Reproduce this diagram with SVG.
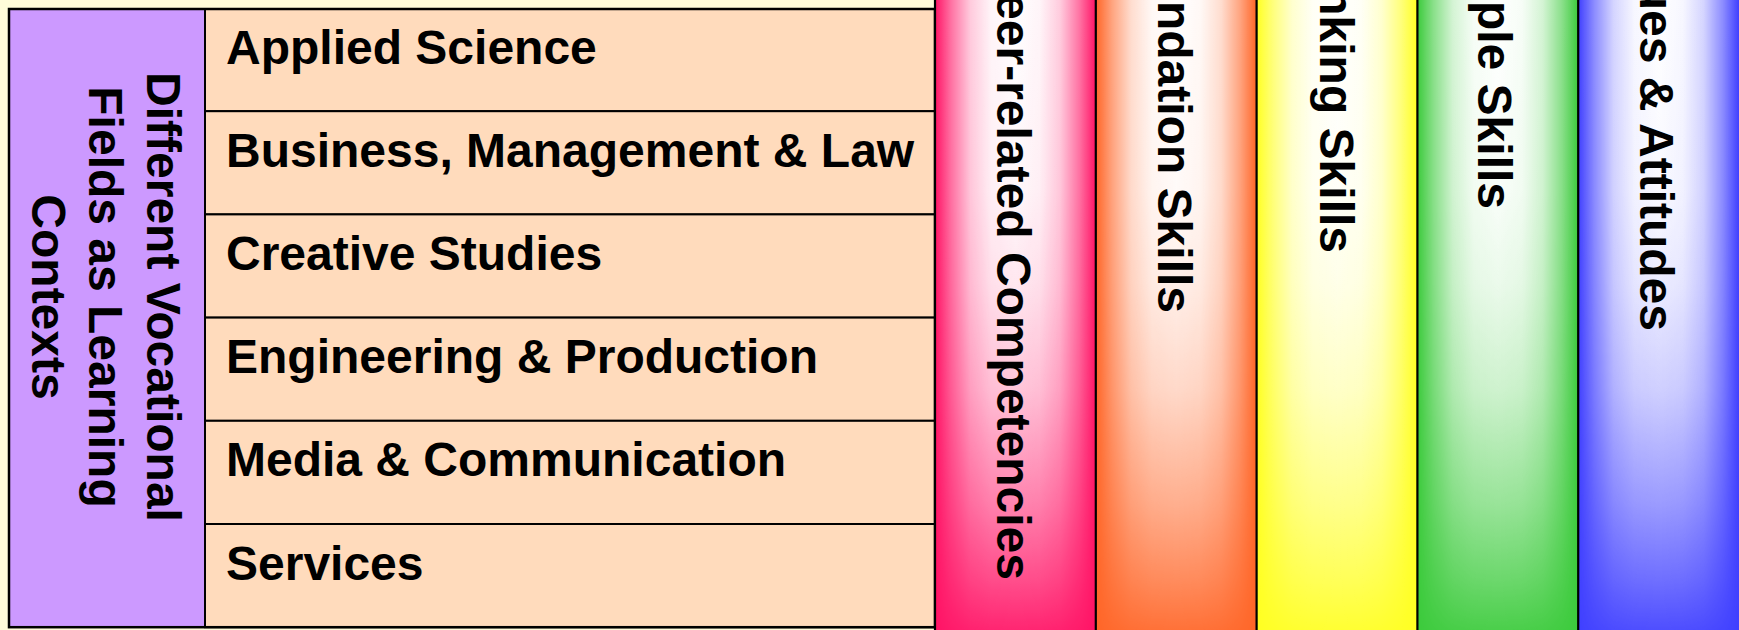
<svg xmlns="http://www.w3.org/2000/svg" width="1739" height="630" viewBox="0 0 1739 630">
  <style>
    .lbl { font-family: "Liberation Sans", Arial, sans-serif; font-weight: bold; font-size: 48px; fill: #000; }
    .row { fill: #FFDBBC; stroke: #000; stroke-width: 2; }
    .sheen { fill: url(#hWhite); }
    .div { stroke: #000; stroke-width: 2.2; }
  </style>
  <defs>
    <linearGradient id="hWhite" x1="0" y1="0" x2="1" y2="0">
      <stop offset="0" stop-color="#fff" stop-opacity="0"/>
      <stop offset="0.1" stop-color="#fff" stop-opacity="0.4"/>
      <stop offset="0.22" stop-color="#fff" stop-opacity="0.78"/>
      <stop offset="0.35" stop-color="#fff" stop-opacity="0.96"/>
      <stop offset="0.5" stop-color="#fff" stop-opacity="1"/>
      <stop offset="0.65" stop-color="#fff" stop-opacity="0.96"/>
      <stop offset="0.78" stop-color="#fff" stop-opacity="0.78"/>
      <stop offset="0.9" stop-color="#fff" stop-opacity="0.4"/>
      <stop offset="1" stop-color="#fff" stop-opacity="0"/>
    </linearGradient>
    <linearGradient id="vGrad" x1="0" y1="0" x2="0" y2="1">
      <stop offset="0" stop-color="#fff"/>
      <stop offset="0.3" stop-color="#f8f8f8"/>
      <stop offset="0.45" stop-color="#e6e6e6"/>
      <stop offset="0.62" stop-color="#c0c0c0"/>
      <stop offset="0.8" stop-color="#7a7a7a"/>
      <stop offset="0.92" stop-color="#404040"/>
      <stop offset="1" stop-color="#141414"/>
    </linearGradient>
    <mask id="vMask" maskContentUnits="objectBoundingBox">
      <rect x="0" y="0" width="1" height="1" fill="url(#vGrad)"/>
    </mask>
  </defs>

  <rect x="0" y="0" width="1739" height="630" fill="#FFFCDA"/>

  <g id="contexts">
    <rect x="9" y="9" width="196" height="618" fill="#CC99FF" stroke="#000" stroke-width="2"/>
    <text class="lbl" text-anchor="middle" transform="translate(146.5,297) rotate(90)"><tspan x="0" y="0">Different Vocational</tspan><tspan x="0" dy="57.5">Fields as Learning</tspan><tspan x="0" dy="57.5">Contexts</tspan></text>
  </g>

  <g id="field-applied-science">
    <rect class="row" x="205" y="9" width="730" height="102.2"/>
    <text class="lbl" x="226" y="63.5">Applied Science</text>
  </g>
  <g id="field-business">
    <rect class="row" x="205" y="111.2" width="730" height="103.2"/>
    <text class="lbl" x="226" y="166.7">Business, Management &amp; Law</text>
  </g>
  <g id="field-creative">
    <rect class="row" x="205" y="214.4" width="730" height="103.2"/>
    <text class="lbl" x="226" y="270">Creative Studies</text>
  </g>
  <g id="field-engineering">
    <rect class="row" x="205" y="317.6" width="730" height="103.2"/>
    <text class="lbl" x="226" y="373.2">Engineering &amp; Production</text>
  </g>
  <g id="field-media">
    <rect class="row" x="205" y="420.8" width="730" height="103.2"/>
    <text class="lbl" x="226" y="476.4">Media &amp; Communication</text>
  </g>
  <g id="field-services">
    <rect class="row" x="205" y="524" width="730" height="103.2"/>
    <text class="lbl" x="226" y="579.6">Services</text>
  </g>
  <rect x="9" y="9" width="926" height="618.2" fill="none" stroke="#000" stroke-width="2.5"/>

  <g id="col-career">
    <rect x="935" y="0" width="160.8" height="630" fill="#FF1466"/>
    <rect class="sheen" x="935" y="0" width="160.8" height="630" mask="url(#vMask)"/>
    <text class="lbl" text-anchor="end" transform="translate(997,580) rotate(90)">eer-related Competencies</text>
  </g>
  <g id="col-foundation">
    <rect x="1095.8" y="0" width="160.8" height="630" fill="#FF6628"/>
    <rect class="sheen" x="1095.8" y="0" width="160.8" height="630" mask="url(#vMask)"/>
    <text class="lbl" text-anchor="end" transform="translate(1158,313) rotate(90)">ndation Skills</text>
  </g>
  <g id="col-thinking">
    <rect x="1256.6" y="0" width="160.8" height="630" fill="#FFFF22"/>
    <rect class="sheen" x="1256.6" y="0" width="160.8" height="630" mask="url(#vMask)"/>
    <text class="lbl" text-anchor="end" transform="translate(1320,253) rotate(90)">nking Skills</text>
  </g>
  <g id="col-people">
    <rect x="1417.4" y="0" width="160.8" height="630" fill="#3CCB3C"/>
    <rect class="sheen" x="1417.4" y="0" width="160.8" height="630" mask="url(#vMask)"/>
    <text class="lbl" text-anchor="end" transform="translate(1478,209) rotate(90)">ple Skills</text>
  </g>
  <g id="col-values">
    <rect x="1578.2" y="0" width="160.8" height="630" fill="#4040FF"/>
    <rect class="sheen" x="1578.2" y="0" width="160.8" height="630" mask="url(#vMask)"/>
    <text class="lbl" text-anchor="end" transform="translate(1640,331) rotate(90)">ues &amp; Attitudes</text>
  </g>

  <g id="dividers">
    <line class="div" x1="935" y1="0" x2="935" y2="630"/>
    <line class="div" x1="1095.8" y1="0" x2="1095.8" y2="630"/>
    <line class="div" x1="1256.6" y1="0" x2="1256.6" y2="630"/>
    <line class="div" x1="1417.4" y1="0" x2="1417.4" y2="630"/>
    <line class="div" x1="1578.2" y1="0" x2="1578.2" y2="630"/>
  </g>
</svg>
